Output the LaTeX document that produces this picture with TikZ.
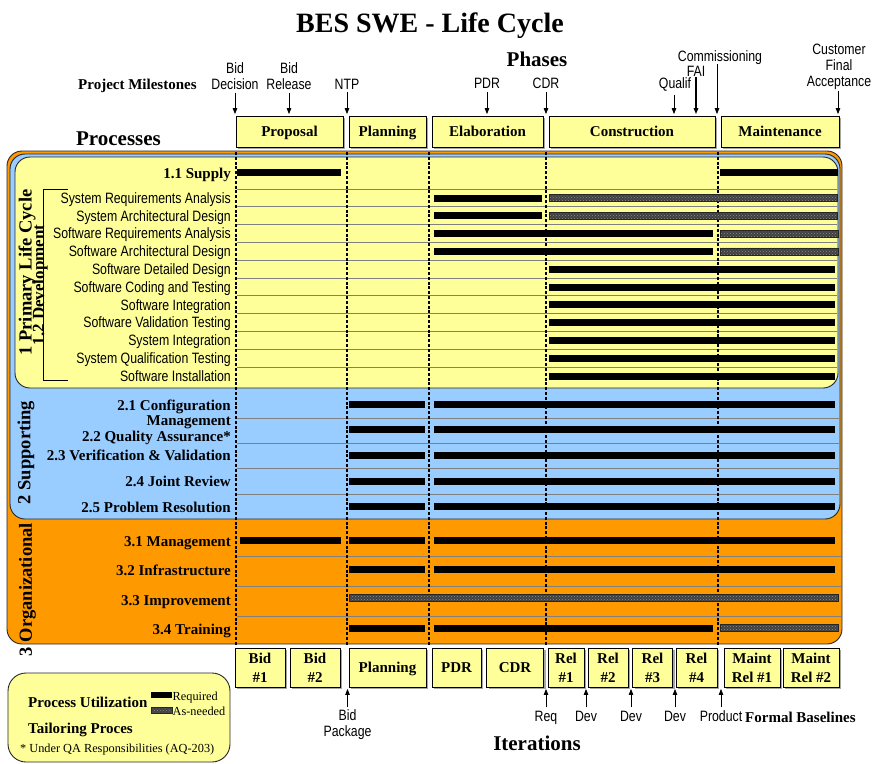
\documentclass[tikz,border=0pt]{standalone}
\usepackage{fontspec}
\setmainfont{Liberation Serif}
\newfontfamily\nsans[FakeStretch=0.82]{Liberation Sans}
\usetikzlibrary{arrows.meta,patterns,shadows}

\definecolor{lcyellow}{HTML}{FFFF99}
\definecolor{lcblue}{HTML}{99CCFF}
\definecolor{lcorange}{HTML}{FF9900}
\definecolor{lcrule}{HTML}{808080}

% activity bars: from x #1 to x #2 on the row at y #3
\newcommand\rqbar[3]{\fill[black] (#1,#3-3.5) rectangle (#2,#3+3.5);}
\newcommand\anbar[3]{\path[asneeded] (#1,#3-3.5) rectangle (#2,#3+3.5);}

\begin{document}
\begin{tikzpicture}[x=1pt, y=-1pt,
  secbox/.style={draw=black!85, line width=0.9pt, rounded corners=15pt},
  rowrule/.style={draw=lcrule, line width=0.9pt},
  phaseline/.style={line width=1.6pt, dash pattern=on 3pt off 1.8pt},
  asneeded/.style={draw=black!85, line width=0.5pt, preaction={fill=black!75},
    pattern=crosshatch dots, pattern color=black!45},
  ybox/.style={draw=black, line width=0.8pt, fill=lcyellow, inner sep=0pt, align=center,
    font=\fontsize{15}{19}\selectfont\bfseries,
    drop shadow={shadow xshift=2pt, shadow yshift=-2pt, fill=black!50, opacity=0.7}},
  onel/.style={text height=10pt, text depth=0pt},
  msarrow/.style={-{Triangle[length=6pt,width=4.5pt]}, line width=0.8pt, shorten >=1.5pt},
  mslab/.style={inner sep=0pt, align=center, font=\nsans\fontsize{15}{16}\selectfont},
  hd/.style={inner sep=0pt, font=\fontsize{21}{23}\selectfont\bfseries},
  bfl/.style={inner sep=0pt, font=\fontsize{15}{17}\selectfont\bfseries},
  plab/.style={anchor=base east, inner sep=0pt, font=\fontsize{15}{15}\selectfont\bfseries},
  slab/.style={anchor=base east, inner sep=0pt, font=\nsans\fontsize{15}{15}\selectfont},
  vlab/.style={rotate=90, inner sep=0pt, font=\fontsize{18.5}{20}\selectfont\bfseries},
  legtxt/.style={inner sep=0pt, font=\fontsize{12.3}{14}\selectfont},
]
\useasboundingbox (0,0) rectangle (875,763);

% ---------- headings ----------
\node[anchor=base, inner sep=0pt, font=\fontsize{28}{30}\selectfont\bfseries] (title) at (430,32) {BES SWE - Life Cycle};
\node[hd, anchor=base] (phases) at (537,66) {Phases};
\node[bfl, anchor=base west] (pmiles) at (78,89) {Project Milestones};
\node[hd, anchor=base] (processes) at (118.5,145) {Processes};

% ---------- phases ----------
\node[ybox, onel, minimum width=107pt, minimum height=31pt] (proposal) at (289.5,131.5) {Proposal};
\node[ybox, onel, minimum width=77pt, minimum height=31pt] (planning) at (387.5,131.5) {Planning};
\node[ybox, onel, minimum width=111pt, minimum height=31pt] (elaboration) at (487.5,131.5) {Elaboration};
\node[ybox, onel, minimum width=166pt, minimum height=31pt] (construction) at (632,131.5) {Construction};
\node[ybox, onel, minimum width=118pt, minimum height=31pt] (maintenance) at (780,131.5) {Maintenance};

% ---------- project milestones ----------
\node[mslab] (bidd) at (235,76) {Bid\\Decision};
\node[mslab] (bidr) at (289,76) {Bid\\Release};
\node[mslab, anchor=base] (ntp) at (347,89) {NTP};
\node[mslab, anchor=base] (pdr) at (487,88.5) {PDR};
\node[mslab, anchor=base] (cdr) at (546,88.5) {CDR};
\node[mslab, anchor=base] (qualif) at (675,88.5) {Qualif};
\node[mslab, anchor=base] (fai) at (696,76) {FAI};
\node[mslab, anchor=base] (comm) at (720,61) {Commissioning};
\node[mslab] (cfa) at (839,67) {Customer\\Final\\Acceptance};

\draw[msarrow] ([yshift=-3pt]bidd.south) -- (bidd.south |- proposal.north);
\draw[msarrow] ([yshift=-3pt]bidr.south) -- (bidr.south |- proposal.north);
\draw[msarrow] ([yshift=-3pt]ntp.south) -- (ntp.south |- proposal.north);
\draw[msarrow] ([yshift=-3pt]pdr.south) -- (pdr.south |- elaboration.north);
\draw[msarrow] ([yshift=-3pt]cdr.south) -- (cdr.south |- elaboration.north);
\draw[msarrow] ([xshift=-1pt,yshift=-3pt]qualif.south) -- ([xshift=-1pt]qualif.south |- construction.north);
\draw[msarrow, line width=1.4pt] ([yshift=-1pt]fai.south) -- (fai.south |- construction.north);
\draw[msarrow] ([xshift=-3pt]comm.south) -- ([xshift=-3pt]comm.south |- construction.north);
\draw[msarrow] ([xshift=-1pt,yshift=-1pt]cfa.south) -- ([xshift=-1pt]cfa.south |- maintenance.north);

% ---------- process sections ----------
\draw[secbox, fill=lcorange] (7,151) rectangle (842,644);
\draw[secbox, fill=lcblue] (10,154) rectangle (840,519);
\draw[secbox, fill=lcyellow] (15,157) rectangle (838,388);

% row separators
\foreach \y in {189,206.8,224.6,242.4,260.2,278,295.8,313.6,331.4,349.2,367}
  \draw[rowrule] (237,\y) -- (837,\y);
\foreach \y in {418,443,468,494}
  \draw[rowrule] (237,\y) -- (839,\y);
\foreach \y in {556,586,616}
  \draw[rowrule] (237,\y) -- (841,\y);

% phase boundaries
\foreach \x in {236,347,429,546,718}
  \draw[phaseline] (\x,152) -- (\x,646);

% ---------- 1 primary life cycle ----------
\node[plab] (supply) at (231,178) {1.1 Supply};
\node[slab] (d1) at (231,203.3) {System Requirements Analysis};
\node[slab] (d2) at (231,221.1) {System Architectural Design};
\node[slab] (d3) at (231,238.9) {Software Requirements Analysis};
\node[slab] (d4) at (231,256.7) {Software Architectural Design};
\node[slab] (d5) at (231,274.5) {Software Detailed Design};
\node[slab] (d6) at (231,292.3) {Software Coding and Testing};
\node[slab] (d7) at (231,310.1) {Software Integration};
\node[slab] (d8) at (231,327.9) {Software Validation Testing};
\node[slab] (d9) at (231,345.7) {System Integration};
\node[slab] (d10) at (231,363.5) {System Qualification Testing};
\node[slab] (d11) at (231,381.3) {Software Installation};

\rqbar{237}{341}{172} \rqbar{720}{838}{172}
\rqbar{434}{542}{198}   \anbar{549}{837}{198}
\rqbar{434}{542}{215.8} \anbar{549}{837}{215.8}
\rqbar{434}{713}{233.6} \anbar{720}{838}{233.6}
\rqbar{434}{713}{251.4} \anbar{720}{838}{251.4}
\foreach \y in {269.2,287,304.8,322.6,340.4,358.2,376}
  {\rqbar{549}{835}{\y}}

\node[vlab] (primary) at (27,272.5) {1 Primary Life Cycle};
\node[vlab, font=\fontsize{17}{19}\selectfont\bfseries] (develop) at (40,285) {1.2 Development};
\draw[line width=0.8pt] (68,189) -- (43,189) -- (43,380) -- (68,380);

% ---------- 2 supporting ----------
\node[plab] (cfg) at (231,410) {2.1 Configuration};
\node[plab] (cfgm) at (231,425) {Management};
\node[plab] (qa) at (231,441) {2.2 Quality Assurance*};
\node[plab] (vv) at (231,460) {2.3 Verification \& Validation};
\node[plab] (jr) at (231,486) {2.4 Joint Review};
\node[plab] (pr) at (231,512) {2.5 Problem Resolution};
\foreach \y in {404,429,455,481,506}
  {\rqbar{349}{425}{\y} \rqbar{434}{835}{\y}}
\node[vlab] (supporting) at (26,452.5) {2 Supporting};

% ---------- 3 organizational ----------
\node[plab] (mgmt) at (231,546) {3.1 Management};
\node[plab] (infra) at (231,575) {3.2 Infrastructure};
\node[plab] (impr) at (231,605) {3.3 Improvement};
\node[plab] (train) at (231,634) {3.4 Training};
\rqbar{240}{341}{540} \rqbar{349}{425}{540} \rqbar{434}{835}{540}
\rqbar{349}{425}{569} \rqbar{434}{835}{569}
\anbar{349}{838}{598}
\rqbar{349}{425}{628} \rqbar{434}{713}{628} \anbar{720}{838}{628}
\node[vlab] (organizational) at (27.5,589.5) {3 Organizational};

% ---------- iterations ----------
\node[ybox, minimum width=50pt, minimum height=39pt] (bid1) at (260,667.5) {Bid\\\#1};
\node[ybox, minimum width=50pt, minimum height=39pt] (bid2) at (315,667.5) {Bid\\\#2};
\node[ybox, onel, minimum width=77pt, minimum height=39pt] (iplan) at (387.5,667.5) {Planning};
\node[ybox, onel, minimum width=49pt, minimum height=39pt] (ipdr) at (456.5,667.5) {PDR};
\node[ybox, onel, minimum width=57pt, minimum height=39pt] (icdr) at (515,667.5) {CDR};
\node[ybox, minimum width=36pt, minimum height=39pt] (rel1) at (566,667.5) {Rel\\\#1};
\node[ybox, minimum width=40pt, minimum height=39pt] (rel2) at (608,667.5) {Rel\\\#2};
\node[ybox, minimum width=40pt, minimum height=39pt] (rel3) at (652.5,667.5) {Rel\\\#3};
\node[ybox, minimum width=41pt, minimum height=39pt] (rel4) at (696.5,667.5) {Rel\\\#4};
\node[ybox, minimum width=56pt, minimum height=39pt] (mrel1) at (752,667.5) {Maint\\Rel \#1};
\node[ybox, minimum width=56pt, minimum height=39pt] (mrel2) at (811,667.5) {Maint\\Rel \#2};

\node[mslab] (bidpkg) at (347.5,725) {Bid\\Package};
\node[mslab, anchor=base] (req) at (546,721) {Req};
\node[mslab, anchor=base] (dev1) at (586,721) {Dev};
\node[mslab, anchor=base] (dev2) at (631,721) {Dev};
\node[mslab, anchor=base] (dev3) at (675,721) {Dev};
\node[mslab, anchor=base] (product) at (721,721) {Product};
\node[bfl, anchor=base west] (formal) at (745,722) {Formal Baselines};
\node[hd, anchor=base] (iterations) at (537,750) {Iterations};

\draw[msarrow] ([yshift=3pt]bidpkg.north) -- (bidpkg.north |- bid2.south);
\draw[msarrow] ([yshift=3pt]req.north) -- (req.north |- rel1.south);
\draw[msarrow] ([yshift=3pt]dev1.north) -- (dev1.north |- rel1.south);
\draw[msarrow] ([yshift=3pt]dev2.north) -- (dev2.north |- rel2.south);
\draw[msarrow] ([yshift=3pt]dev3.north) -- (dev3.north |- rel3.south);
\draw[msarrow] ([yshift=3pt]product.north) -- (product.north |- rel4.south);

% ---------- legend ----------
\draw[draw=black!85, line width=0.9pt, fill=lcyellow, rounded corners=18pt] (8,673) rectangle (230,762);
\node[bfl, anchor=base west] (utilization) at (28,707) {Process Utilization};
\fill[black] (151,692) rectangle (172,698);
\path[asneeded] (151,707) rectangle (172,713);
\node[legtxt, anchor=base west] (required) at (172.5,700) {Required};
\node[legtxt, anchor=base west] (asneed) at (172.5,715) {As-needed};
\node[bfl, anchor=base west] (tailoring) at (28,733) {Tailoring Proces};
\node[legtxt, anchor=base west] (qanote) at (20,752) {* Under QA Responsibilities (AQ-203)};
\end{tikzpicture}
\end{document}
